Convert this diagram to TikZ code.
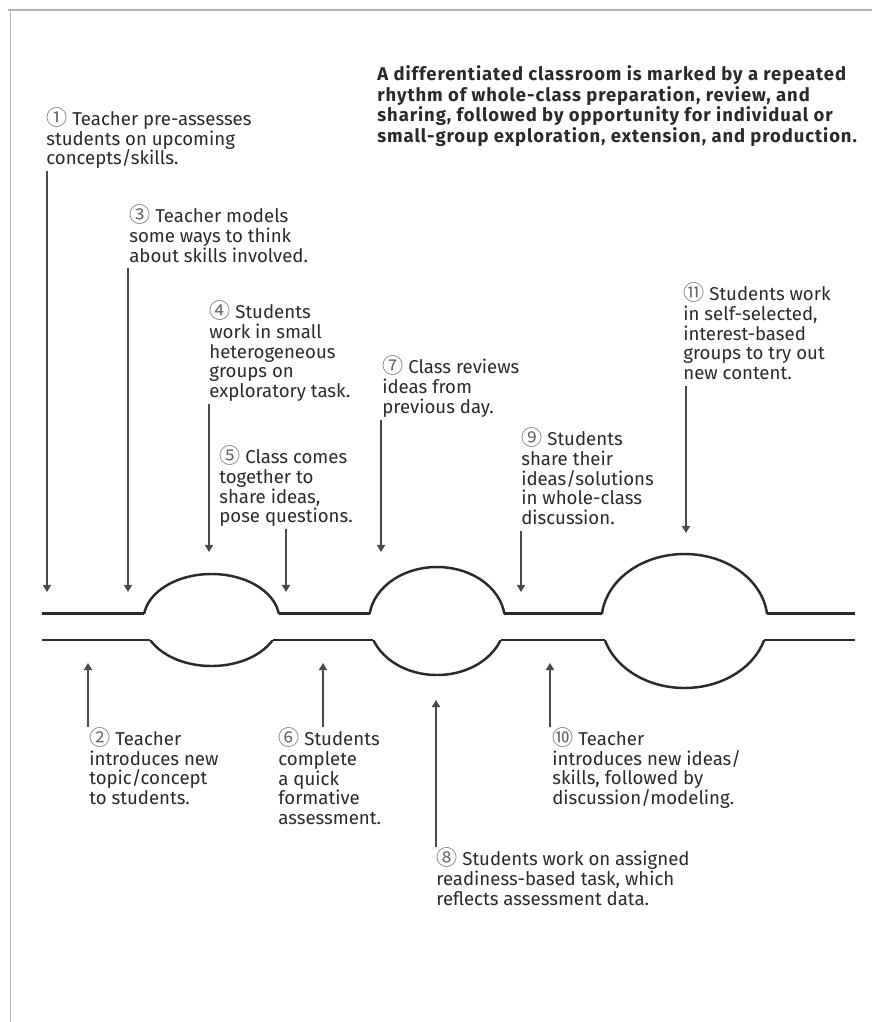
\documentclass[tikz,border=0pt]{standalone}
\usepackage{fontspec}
\setmainfont{Fira Sans}
\newfontfamily\circfont{Noto Sans CJK JP}
\newfontfamily\headfont[LetterSpace=5]{Fira Sans}
\usepackage{tikz}
\usetikzlibrary{arrows.meta}
\definecolor{ink}{HTML}{2A2A2A}
\definecolor{framegray}{HTML}{B4B4B4}
\newcommand{\cnum}[1]{\smash{\circfont\fontsize{12pt}{10pt}\selectfont\color{black!60}#1}}
\tikzset{
	lbl/.style={anchor=north west, align=left, inner sep=0pt, text=ink,
		font=\fontsize{10.6pt}{11.3pt}\selectfont,
		execute at begin node=\strut, execute at end node=\strut},
	ttl/.style={lbl, font=\headfont\fontsize{10.5pt}{10.2pt}\selectfont\bfseries},
	arr/.style={draw=ink!85, line width=0.8pt, -{Triangle[length=4pt, width=4.6pt]}},
	chan/.style={draw=ink, line width=1.4pt},
	frm/.style={draw=framegray, line width=1.1pt},
}
\begin{document}
\begin{tikzpicture}[x=0.02cm, y=-0.02cm]
	\useasboundingbox (0,0) rectangle (872,1022);
	\draw[frm] (8,10) -- (872,10);
	\draw[frm] (10.5,10) -- (10.5,1022);
	\node[ttl] (head) at (377,65) {A differentiated classroom is marked by a repeated\\rhythm of whole-class preparation, review, and\\sharing, followed by opportunity for individual or\\small-group exploration, extension, and production.};
	\node[lbl] (s1) at (46,111) {\cnum{①} Teacher pre-assesses\\students on upcoming\\concepts/skills.};
	\node[lbl] (s3) at (129,208) {\cnum{③} Teacher models\\some ways to think\\about skills involved.};
	\node[lbl] (s4) at (209,304) {\cnum{④} Students\\work in small\\heterogeneous\\groups on\\exploratory task.};
	\node[lbl] (s5) at (219,449) {\cnum{⑤} Class comes\\together to\\share ideas,\\pose questions.};
	\node[lbl] (s7) at (382,359) {\cnum{⑦} Class reviews\\ideas from\\previous day.};
	\node[lbl] (s9) at (521,431) {\cnum{⑨} Students\\share their\\ideas/solutions\\in whole-class\\discussion.};
	\node[lbl] (s11) at (683,286) {\cnum{⑪} Students work\\in self-selected,\\interest-based\\groups to try out\\new content.};
	\node[lbl] (s2) at (89,731) {\cnum{②} Teacher\\introduces new\\topic/concept\\to students.};
	\node[lbl] (s6) at (278,731) {\cnum{⑥} Students\\complete\\a quick\\formative\\assessment.};
	\node[lbl] (s10) at (552,731) {\cnum{⑩} Teacher\\introduces new ideas/\\skills, followed by\\discussion/modeling.};
	\node[lbl] (s8) at (436,851) {\cnum{⑧} Students work on assigned\\readiness-based task, which\\reflects assessment data.};
	% channel with three bubbles
	\draw[chan] (42,613.5) -- (144.2,613.5) (278.8,613.5) -- (369.7,613.5) (504.3,613.5) -- (602,613.5) (767,613.5) -- (855,613.5);
	\draw[chan] (42,640) -- (150.3,640) (272.7,640) -- (373.4,640) (500.6,640) -- (604.9,640) (764.1,640) -- (855,640);
	\begin{scope}
		\clip (0,0) rectangle (872,613.5);
		\draw[chan] (211.5,620) ellipse [x radius=68, y radius=46] (437,621) ellipse [x radius=68, y radius=54] (684.5,621) ellipse [x radius=83, y radius=67];
	\end{scope}
	\begin{scope}
		\clip (0,640) rectangle (872,1022);
		\draw[chan] (211.5,620) ellipse [x radius=68, y radius=46] (437,621) ellipse [x radius=68, y radius=54] (684.5,621) ellipse [x radius=83, y radius=67];
	\end{scope}
	\coordinate (a1) at (47,592);
	\coordinate (a3) at (128,592);
	\coordinate (a4) at (209,552);
	\coordinate (a5) at (286,592);
	\coordinate (a7) at (381,552);
	\coordinate (a9) at (521,592);
	\coordinate (a11) at (686,533);
	\coordinate (b2) at (88,663);
	\coordinate (b6) at (323,663);
	\coordinate (b8) at (436,700);
	\coordinate (b10) at (550,663);
	\draw[arr] (a1 |- s1.south) -- (a1);
	\draw[arr] (a3 |- s3.south) -- (a3);
	\draw[arr] (a4 |- s4.south) -- (a4);
	\draw[arr] (a5 |- s5.south) -- (a5);
	\draw[arr] (a7 |- s7.south) -- (a7);
	\draw[arr] (a9 |- s9.south) -- (a9);
	\draw[arr] (a11 |- s11.south) -- (a11);
	\draw[arr] ([yshift=2pt]b2 |- s2.north) -- (b2);
	\draw[arr] ([yshift=2pt]b6 |- s6.north) -- (b6);
	\draw[arr] ([yshift=2pt]b8 |- s8.north) -- (b8);
	\draw[arr] ([yshift=2pt]b10 |- s10.north) -- (b10);
\end{tikzpicture}
\end{document}
